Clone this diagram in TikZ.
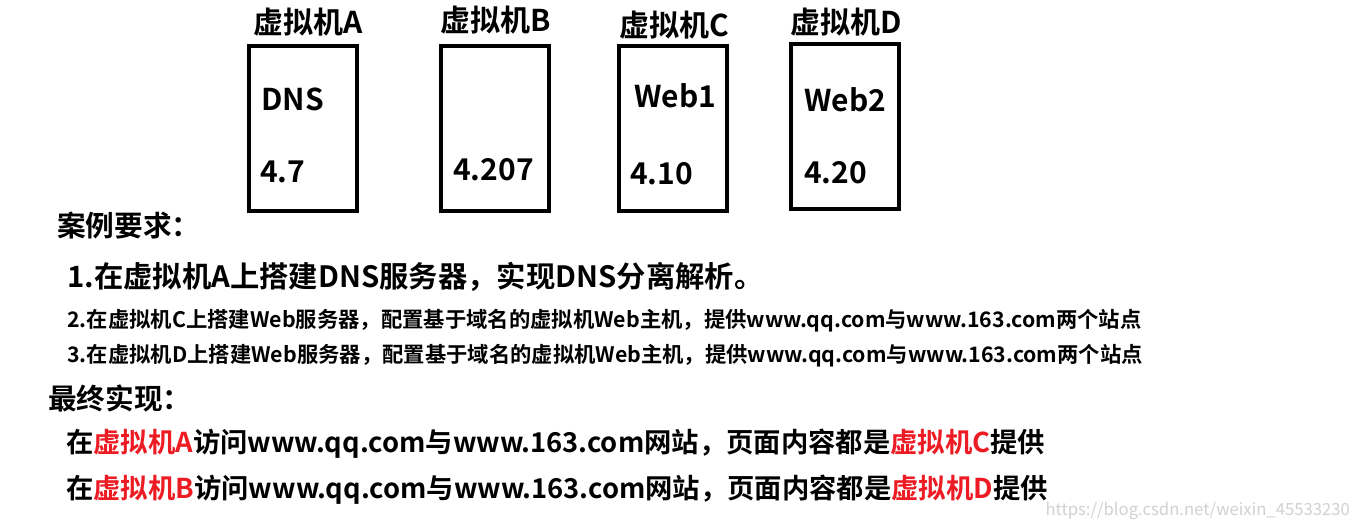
\documentclass[tikz,border=0pt]{standalone}
\usepackage{fontspec}
\setmainfont{Noto Sans CJK SC}[BoldFont={* Bold}]
\usepackage{xcolor}
\usetikzlibrary{positioning}
\definecolor{VmRed}{RGB}{237,28,36}
\definecolor{MarkGray}{gray}{0.82}
\tikzset{
    vmbox/.style={draw,line width=3.5pt},
    vmtitle/.style={inner sep=0pt,font=\bfseries\fontsize{22.5}{26}\selectfont},
    vmtext/.style={inner sep=0pt,anchor=west,font=\bfseries\fontsize{22.5}{26}\selectfont}
}
\begin{document}
\begin{tikzpicture}[x=0.75pt,y=-0.75pt]
\tikzset{
    head/.style={inner sep=0pt,anchor=west,font=\bfseries\fontsize{21.5}{24}\selectfont},
    line1/.style={inner sep=0pt,anchor=west,font=\bfseries\fontsize{22}{24}\selectfont},
    item/.style={inner sep=0pt,anchor=west,font=\bfseries\fontsize{16}{18}\selectfont},
    result/.style={inner sep=0pt,anchor=west,font=\bfseries\fontsize{20.5}{22}\selectfont}
}
  \useasboundingbox[fill=white] (0,0) rectangle (1360,530);

  % four virtual machines
  \draw[vmbox] (249,46) rectangle (357,211);
  \draw[vmbox] (441,46) rectangle (549,211);
  \draw[vmbox] (619,46) rectangle (727,211);
  \draw[vmbox] (791,44) rectangle (899,209);

  \node[vmtitle] (titleA) at (308,22) {虚拟机A};
  \node[vmtitle] (titleB) at (496,20) {虚拟机B};
  \node[vmtitle] (titleC) at (674,25) {虚拟机C};
  \node[vmtitle] (titleD) at (846,22) {虚拟机D};

  \node[vmtext] (roleA) at (261,99) {DNS};
  \node[vmtext] (roleC) at (634,96) {Web1};
  \node[vmtext] (roleD) at (804,100) {Web2};
  \node[vmtext] (ipA) at (260,172) {4.7};
  \node[vmtext] (ipB) at (453,170) {4.207};
  \node[vmtext] (ipC) at (630,174) {4.10};
  \node[vmtext] (ipD) at (804,173) {4.20};

  % requirements
  \node[head] (req) at (57,226) {案例要求：};
  \node[line1] (req1) at (67,277) {1.在虚拟机A上搭建DNS服务器，实现DNS分离解析。};
  \node[item] (req2) at (67,321) {2.在虚拟机C上搭建Web服务器，配置基于域名的虚拟机Web主机，提供www.qq.com与www.163.com两个站点};
  \node[item] (req3) at (67,356) {3.在虚拟机D上搭建Web服务器，配置基于域名的虚拟机Web主机，提供www.qq.com与www.163.com两个站点};

  % results
  \node[head] (res) at (48,398) {最终实现：};
  \node[result] (res1) at (66,444) {在\textcolor{VmRed}{虚拟机A}访问www.qq.com与www.163.com网站，页面内容都是\textcolor{VmRed}{虚拟机C}提供};
  \node[result] (res2) at (66,490) {在\textcolor{VmRed}{虚拟机B}访问www.qq.com与www.163.com网站，页面内容都是\textcolor{VmRed}{虚拟机D}提供};

  \node[inner sep=0pt,anchor=east,text=MarkGray,font=\fontsize{12.5}{15}\selectfont] (mark) at (1350,511) {https://blog.csdn.net/weixin\_45533230};
\end{tikzpicture}
\end{document}
